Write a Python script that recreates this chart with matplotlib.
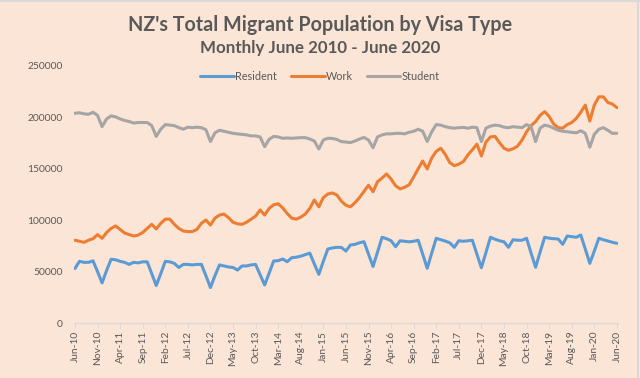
import matplotlib
matplotlib.use("Agg")
import matplotlib.pyplot as plt
from matplotlib.lines import Line2D

tick_labels = ["Jun-10", "Nov-10", "Apr-11", "Sep-11", "Feb-12", "Jul-12", "Dec-12",
               "May-13", "Oct-13", "Mar-14", "Aug-14", "Jan-15", "Jun-15", "Nov-15",
               "Apr-16", "Sep-16", "Feb-17", "Jul-17", "Dec-17", "May-18", "Oct-18",
               "Mar-19", "Aug-19", "Jan-20", "Jun-20"]

resident = [
    53000, 60000, 59000, 59000, 60500, 50000, 39000, 51000, 62000, 61500, 60000, 59000,
    57000, 59000, 58500, 59500, 59500, 48000, 36500, 48000, 60000, 59500, 58000, 54000,
    57000, 57000, 56500, 57000, 57000, 46000, 34500, 46000, 56500, 55500, 54500, 54000,
    51500, 55500, 55500, 56500, 57000, 47000, 37000, 48500, 60300, 60600, 62300, 59600,
    63500, 64000, 65000, 66500, 68000, 57500, 47400, 60000, 72000, 73000, 73600, 73500,
    70000, 75900, 76500, 78000, 79100, 67000, 55000, 69000, 83400, 82000, 80000, 74200,
    80000, 79500, 79000, 79500, 80500, 67000, 53200, 68000, 82400, 81000, 79700, 78000,
    73600, 80000, 79500, 80000, 80500, 67000, 53800, 68500, 83400, 81500, 80000, 79000,
    73600, 81000, 80500, 80500, 82400, 68000, 54200, 69000, 83400, 82500, 82000, 81700,
    76500, 84600, 84000, 83400, 85600, 72000, 58000, 70000, 82400, 81000, 79800, 78500,
    77500]

work = [
    80500, 79500, 78500, 80500, 82000, 86000, 82400, 88000, 92000, 94400, 91000, 87500,
    86000, 84600, 85500, 88000, 92000, 96000, 91500, 97000, 101000, 101000, 96000, 92000,
    89500, 88900, 89000, 91000, 97000, 100200, 95300, 102000, 105000, 106000, 102500, 98000,
    96500, 96000, 98000, 101000, 104000, 110000, 105000, 111500, 115000, 116000, 112000, 106500,
    102000, 101000, 103000, 106000, 111500, 119700, 113000, 122000, 125500, 126500, 124500, 118500,
    114500, 113000, 117000, 122000, 128000, 134000, 127700, 137500, 141000, 145000, 140000, 133500,
    130500, 132000, 134500, 142000, 150000, 157600, 149800, 160500, 167000, 170000, 164000, 156000,
    153000, 154500, 157000, 163500, 168500, 174000, 162500, 176000, 181000, 181500, 175500, 170000,
    168000, 169500, 172000, 178000, 186000, 192000, 196000, 202000, 205600, 201000, 193500, 190000,
    189500, 193000, 195000, 199000, 205000, 212000, 196500, 212000, 220000, 220000, 214500, 213000,
    209500]

student = [
    204000, 204500, 203500, 203000, 205000, 202000, 191000, 198500, 201500, 200500, 198500, 197000,
    196000, 194500, 195000, 195000, 195000, 192000, 181500, 188500, 193000, 192500, 192000, 190000,
    188500, 190500, 190000, 190500, 190000, 188000, 176500, 185000, 187500, 186500, 185500, 184500,
    184000, 183500, 183000, 182000, 182000, 181000, 171500, 178700, 181500, 181000, 179700, 180000,
    179700, 180000, 180300, 180300, 179000, 177000, 169300, 178000, 179700, 179500, 178500, 176500,
    176000, 175500, 177000, 179000, 180500, 178000, 170500, 181000, 183000, 184000, 184000, 184500,
    184500, 184000, 185500, 186500, 188500, 186500, 176500, 186000, 193000, 192500, 191000, 190000,
    189500, 190000, 190300, 189500, 190500, 190000, 176500, 189500, 191500, 192500, 192000, 190500,
    190000, 191000, 190500, 190000, 193000, 191000, 176500, 189500, 192500, 191500, 189500, 187500,
    186500, 186000, 185500, 185000, 187000, 184500, 171000, 183500, 188500, 190000, 187500, 184500,
    184500]

series_names = ["Resident", "Work", "Student"]
colors = ["#5B9BD5", "#ED7D31", "#A5A5A5"]

plt.rcParams["font.family"] = ["Lato", "DejaVu Sans"]
BG = "#FBE5D6"
TXT = "#595959"

fig = plt.figure(figsize=(6.4, 3.78), dpi=100, facecolor=BG)
ax = fig.add_axes([0.115, 0.1455, 0.851, 0.6799])
ax.set_facecolor(BG)

x = list(range(len(resident)))
for vals, name, c in zip([resident, work, student], series_names, colors):
    ax.plot(x, vals, color=c, lw=2.2, label=name, solid_joinstyle="round",
            solid_capstyle="round")

ax.set_ylim(0, 250000)
ax.set_yticks(range(0, 250001, 50000))
ax.set_xlim(-0.3, 120.3)
ax.set_xticks(range(0, 121, 5))
ax.set_xticklabels(tick_labels, rotation=90)

for s in ["top", "right", "left"]:
    ax.spines[s].set_visible(False)
ax.spines["bottom"].set_color("#D9D9D9")
ax.spines["bottom"].set_linewidth(0.9)
ax.tick_params(axis="y", length=0, pad=8, labelsize=7.4, labelcolor=TXT)
ax.tick_params(axis="x", length=3.5, width=0.8, color="#D9D9D9", pad=2,
               labelsize=7.4, labelcolor=TXT)

fig.text(0.5, 1 - 25 / 378, "NZ's Total Migrant Population by Visa Type",
         ha="center", va="center", fontsize=14.2, fontweight="bold", color=TXT)
fig.text(0.5, 1 - 48 / 378, "Monthly June 2010 - June 2020",
         ha="center", va="center", fontsize=12.2, fontweight="bold", color=TXT)

fig.legend(loc="center", bbox_to_anchor=(0.5, 1 - 76 / 378), ncol=3, frameon=False,
           fontsize=7.8, labelcolor=TXT, handlelength=3.1, handletextpad=0.1,
           columnspacing=1.3)

fig.add_artist(Line2D([0, 1], [0.998, 0.998], transform=fig.transFigure,
                      color="#D9D9D9", lw=1.5))
fig.add_artist(Line2D([0.997, 0.997], [0, 1], transform=fig.transFigure,
                      color="#D9D9D9", lw=1.5))

fig.savefig("out.png", dpi=100, facecolor=BG)
